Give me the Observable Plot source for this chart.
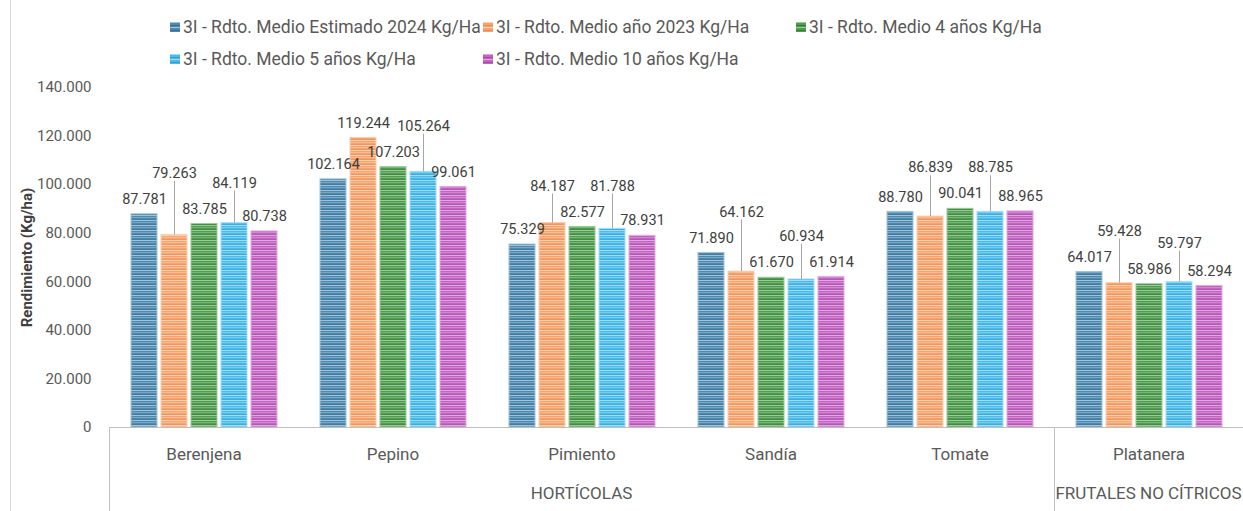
<!DOCTYPE html>
<html><head><meta charset="utf-8">
<script src="https://cdn.jsdelivr.net/npm/d3@7"></script>
<script src="https://cdn.jsdelivr.net/npm/@observablehq/plot@0.6"></script>
<style>
body{margin:0;background:#fff;font-family:Roboto, "Liberation Sans", sans-serif;}
#wrap{position:relative;width:1243px;height:511px;overflow:hidden;background:#fff;}
#chart{position:absolute;left:0;top:0;}
#legend{position:absolute;left:0;top:0;width:1243px;height:80px;}
.item{position:absolute;font-size:17.5px;color:#595959;white-space:nowrap;line-height:20px;height:20px;}
.sw{position:absolute;left:0;top:5px;width:10px;height:10px;}
.txt{position:absolute;left:13px;top:0;}
</style>
</head><body>
<div id="wrap"><div id="chart"></div><div id="legend"></div></div>
<script>
// ---- data ----
const categories = ["Berenjena", "Pepino", "Pimiento", "Sandía", "Tomate", "Platanera"];
const groupOf = ["HORTÍCOLAS", "HORTÍCOLAS", "HORTÍCOLAS", "HORTÍCOLAS", "HORTÍCOLAS", "FRUTALES NO CÍTRICOS"];
const seriesNames = [
  "3I - Rdto. Medio Estimado 2024 Kg/Ha",
  "3I - Rdto. Medio año 2023 Kg/Ha",
  "3I - Rdto. Medio 4 años Kg/Ha",
  "3I - Rdto. Medio 5 años Kg/Ha",
  "3I - Rdto. Medio 10 años Kg/Ha"
];
const est2024 = [87781, 102164, 75329, 71890, 88780, 64017];
const anio2023 = [79263, 119244, 84187, 64162, 86839, 59428];
const medio4 = [83785, 107203, 82577, 61670, 90041, 58986];
const medio5 = [84119, 105264, 81788, 60934, 88785, 59797];
const medio10 = [80738, 99061, 78931, 61914, 88965, 58294];
const yTicks = [0, 20000, 40000, 60000, 80000, 100000, 120000, 140000];
const yLabel = "Rendimiento (Kg/ha)";

// ---- styles ----
const palette = [
  {base: "#5089ae", light: "#a0c3da", dark: "#336e96"},
  {base: "#f5a46f", light: "#fbcfb0", dark: "#ec8a4c"},
  {base: "#529c52", light: "#98cb98", dark: "#337d36"},
  {base: "#4cbbea", light: "#a0ddf5", dark: "#2aa4d8"},
  {base: "#c265c2", light: "#e0a8e0", dark: "#a64aa6"}
];

const allSeries = [est2024, anio2023, medio4, medio5, medio10];
const fmt = d3.formatLocale({decimal: ",", thousands: ".", grouping: [3], currency: ["", "€"]}).format(",d");

const W = 1243, H = 511, mT = 87, mB = 84, mL = 108, mR = 0;
const yPx = d3.scaleLinear([0, 140000], [H - mB, mT]);

const rows = [];
categories.forEach((c, i) => allSeries.forEach((arr, k) => rows.push({cat: c, ser: seriesNames[k], k, value: arr[i]})));

// label layout (stagger colliding labels, add leader lines)
const labels = [], leaders = [];
categories.forEach((c, i) => {
  const vals = allSeries.map(a => a[i]);
  const def = vals.map(v => yPx(v) - 15);
  const pos = [];
  vals.forEach((v, k) => {
    let y = def[k];
    let raised = false;
    if (k > 0 && Math.abs(y - pos[k - 1]) < 22) {
      const right = k < vals.length - 1 ? def[k + 1] : Infinity;
      y = Math.min(pos[k - 1], right) - 26;
      raised = true;
    }
    pos.push(y);
    labels.push({cat: c, ser: seriesNames[k], value: v, ly: yPx.invert(y)});
    if (raised) leaders.push({cat: c, ser: seriesNames[k], y1: yPx.invert(y + 8), y2: v});
  });
});

const plot = Plot.plot({
  width: W, height: H,
  marginTop: mT, marginBottom: mB, marginLeft: mL, marginRight: mR,
  style: {fontFamily: "Roboto, 'Liberation Sans', sans-serif", color: "#595959", background: "transparent"},
  fx: {domain: categories, padding: 0, label: null},
  x: {domain: seriesNames, paddingInner: 0.145, paddingOuter: 0.68, axis: null},
  y: {domain: [0, 140000]},
  marks: [
    ...seriesNames.map((s, k) => Plot.barY(rows.filter(r => r.k === k), {
      fx: "cat", x: "ser", y: "value", fill: `url(#pat${k})`, stroke: palette[k].light, strokeWidth: 1
    })),
    Plot.ruleY([0], {stroke: "#bfbfbf"}),
    Plot.ruleX(leaders, {fx: "cat", x: "ser", y1: "y1", y2: "y2", stroke: "#a6a6a6", strokeWidth: 1}),
    Plot.text(labels, {fx: "cat", x: "ser", y: "ly", text: d => fmt(d.value), fontSize: 14.5, fill: "#404040"}),
    Plot.axisY({ticks: yTicks, tickFormat: fmt, tickSize: 0, tickPadding: 18, fontSize: 15, fill: "#595959",
      label: yLabel, labelAnchor: "center", labelArrow: "none", labelOffset: 88}),
    Plot.axisFx({anchor: "bottom", tickSize: 0, tickPadding: 20, fontSize: 17, fill: "#595959", label: null})
  ]
});

document.getElementById("chart").appendChild(plot);

// patterns
const svg = d3.select(plot);
const defs = svg.insert("defs", ":first-child");
palette.forEach((p, k) => {
  const pat = defs.append("pattern").attr("id", `pat${k}`).attr("patternUnits", "userSpaceOnUse")
    .attr("width", 6).attr("height", 5);
  pat.append("rect").attr("width", 6).attr("height", 5).attr("fill", p.base);
  pat.append("rect").attr("y", 0).attr("width", 6).attr("height", 1).attr("fill", p.light);
  pat.append("rect").attr("y", 2).attr("width", 6).attr("height", 1).attr("fill", p.light).attr("opacity", 0.5);
  pat.append("rect").attr("y", 4).attr("width", 6).attr("height", 1).attr("fill", p.dark).attr("opacity", 0.55);
});

// y label style
svg.selectAll('[aria-label="y-axis label"] text').attr("font-weight", "bold").attr("fill", "#404040").attr("font-size", 15)
  .each(function(){ this.textContent = this.textContent.replace(/[↑↓]\s*/g, ""); });

// group separators and group labels
const fx = plot.scale("fx");
const bw = fx.bandwidth;
const y0 = yPx(0);
const groupNames = [...new Set(groupOf)];
const deco = svg.append("g");
deco.append("line").attr("x1", 10.5).attr("x2", 10.5).attr("y1", 0).attr("y2", H).attr("stroke", "#d9d9d9");
groupNames.forEach(g => {
  const cats = categories.filter((c, i) => groupOf[i] === g);
  const x0 = fx.apply(cats[0]);
  const x1 = fx.apply(cats[cats.length - 1]) + bw;
  deco.append("line").attr("x1", Math.round(x0) + 0.5).attr("x2", Math.round(x0) + 0.5)
    .attr("y1", y0).attr("y2", H).attr("stroke", "#bfbfbf");
  deco.append("text").attr("x", (x0 + x1) / 2).attr("y", 495).attr("text-anchor", "middle")
    .attr("dominant-baseline", "middle").attr("font-size", 17).attr("fill", "#595959").text(g);
});

// legend
const legend = d3.select("#legend");
seriesNames.forEach((s, k) => {
  const row = k < 3 ? 0 : 1, col = k < 3 ? k : k - 3;
  const it = legend.append("div").attr("class", "item")
    .style("left", (170 + col * 313) + "px").style("top", (row === 0 ? 17 : 49) + "px");
  const p = palette[k];
  it.append("span").attr("class", "sw")
    .style("background", `repeating-linear-gradient(to bottom, ${p.light} 0 1px, ${p.base} 1px 3px, ${p.dark} 3px 4px, ${p.base} 4px 5px)`);
  it.append("span").attr("class", "txt").text(s);
});
</script>
</body></html>
